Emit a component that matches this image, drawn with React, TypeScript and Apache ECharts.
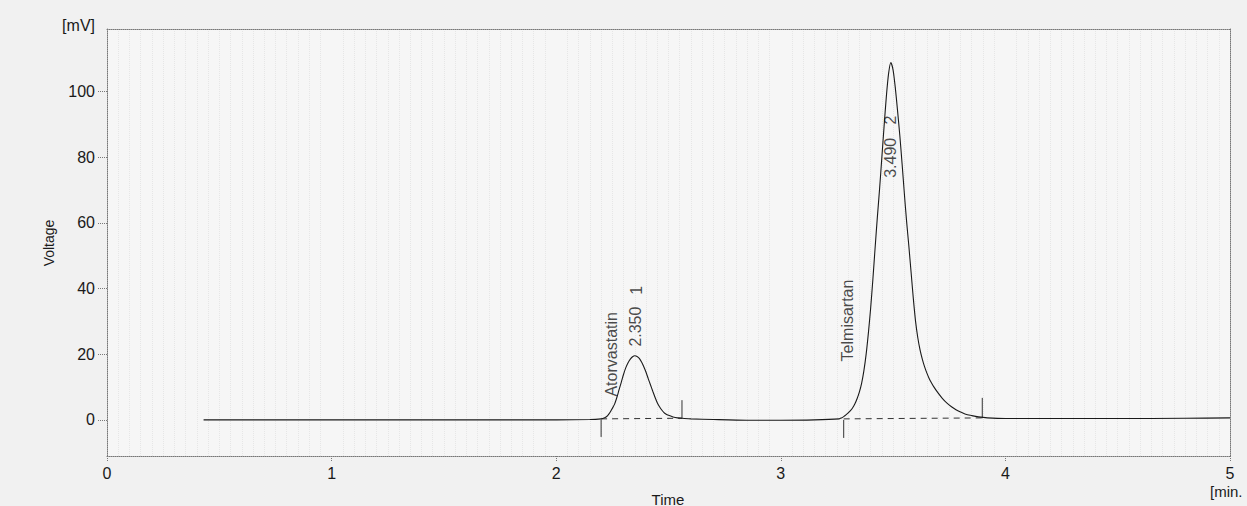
import React, { useEffect, useRef } from "react";
import * as echarts from "echarts";

// Chromatogram signal (time in min, voltage in mV)
const signalTime = [
  0.43, 1.0, 1.5, 2.0, 2.15, 2.2, 2.21, 2.22, 2.23, 2.24, 2.25, 2.26, 2.27, 2.28, 2.29, 2.3, 2.31, 2.32, 2.33, 2.34, 2.35, 2.36, 2.37, 2.38, 2.39, 2.4, 2.41, 2.42, 2.43, 2.44, 2.45, 2.46, 2.47, 2.48, 2.49, 2.5, 2.52, 2.54, 2.56, 2.6, 2.7, 2.85, 3.0, 3.15,
  3.26, 3.27, 3.28, 3.29, 3.3, 3.31, 3.32, 3.33, 3.34, 3.35, 3.36, 3.37, 3.38, 3.39, 3.4, 3.41, 3.42, 3.43, 3.44, 3.45, 3.46, 3.47, 3.48, 3.49, 3.5, 3.51, 3.52, 3.53, 3.54, 3.55, 3.56, 3.57, 3.58, 3.59, 3.6, 3.61, 3.62, 3.63, 3.64, 3.65, 3.66, 3.67, 3.68, 3.7, 3.72, 3.74, 3.76, 3.78, 3.8, 3.82, 3.85, 3.88, 3.92, 4.0, 4.2, 4.5, 4.8, 5.0,
];
const signalMv = [
  0.0, 0.0, 0.0, 0.0, 0.1, 0.3, 0.5, 0.8, 1.4, 2.3, 3.5, 4.8, 6.8, 9.2, 11.5, 13.9, 15.9, 17.4, 18.5, 19.2, 19.5, 19.3, 18.7, 17.6, 16.2, 14.5, 12.5, 10.6, 8.7, 6.9, 5.2, 4.0, 3.0, 2.2, 1.7, 1.4, 0.9, 0.6, 0.5, 0.3, 0.1, -0.1, -0.1, 0.0,
  0.3, 0.6, 1.0, 1.5, 2.1, 2.8, 3.7, 4.9, 6.5, 8.5, 11.2, 15.0, 20.0, 26.5, 34.0, 42.8, 52.5, 61.8, 70.5, 80.0, 89.5, 98.5, 105.5, 108.8, 106.5, 101.0, 94.0, 86.5, 78.0, 69.0, 60.5, 53.0, 45.0, 37.0, 30.0, 25.0, 21.3, 18.5, 16.2, 14.3, 12.7, 11.4, 10.2, 8.2, 6.5, 5.1, 4.0, 3.1, 2.4, 1.8, 1.3, 0.9, 0.6, 0.4, 0.4, 0.4, 0.5, 0.6,
];

// Integration baselines (dashed) per peak: [startT, startV, endT, endV]
const baselines = [
  [2.2, 0.3, 2.56, 0.5],
  [3.28, 0.3, 3.9, 0.6],
];
// Peak start markers (downward) and end markers (upward): [t, v1, v2]
const peakMarkers = [
  [2.2, 0.0, -5.2],
  [2.56, 0.5, 6.0],
  [3.28, 0.0, -5.5],
  [3.897, 0.5, 6.7],
];

// Peak annotations
const annotText = ["Atorvastatin", "2.350", "1", "Telmisartan", "3.490", "2"];
const annotTime = [2.247, 2.354, 2.358, 3.296, 3.489, 3.489];
const annotMv = [7.1, 22.3, 38.1, 17.8, 73.7, 89.9];

const xTicks = [0, 1, 2, 3, 4, 5];
const yTicks = [0, 20, 40, 60, 80, 100];

const FONT = "Liberation Sans, Arial, sans-serif";
const INK = "#1a1a1a";

export default function App() {
  const ref = useRef<HTMLDivElement>(null);
  useEffect(() => {
    if (!ref.current) return;
    const chart = echarts.init(ref.current, null, { renderer: "svg" });
    const signal = signalTime.map((t, i) => [t, signalMv[i]]);
    const series: any[] = [
      {
        type: "line",
        data: signal,
        showSymbol: false,
        smooth: 0.25,
        lineStyle: { color: INK, width: 1.1 },
        z: 5,
      },
    ];
    baselines.forEach((b) => {
      series.push({
        type: "line",
        data: [[b[0], b[1]], [b[2], b[3]]],
        showSymbol: false,
        lineStyle: { color: "#333", width: 1, type: [6, 5] },
        z: 4,
      });
    });
    peakMarkers.forEach((m) => {
      series.push({
        type: "line",
        data: [[m[0], m[1]], [m[0], m[2]]],
        showSymbol: false,
        lineStyle: { color: "#333", width: 1 },
        z: 4,
      });
    });
    series.push({
      type: "scatter",
      symbolSize: 0,
      data: annotText.map((txt, i) => ({ value: [annotTime[i], annotMv[i]], name: txt })),
      label: {
        show: true,
        position: "inside",
        rotate: 90,
        align: "left",
        verticalAlign: "middle",
        formatter: (p: any) => p.name,
        color: INK,
        textBorderWidth: 0,
        textBorderColor: "transparent",
        fontSize: 16,
        fontFamily: FONT,
      },
      z: 6,
    });

    const dottedAxis = { show: true, onZero: false, lineStyle: { color: "#777", type: "dotted", width: 1 } };

    chart.setOption({
      animation: false,
      backgroundColor: "#f1f1f1",
      grid: {
        left: 107,
        right: 17,
        top: 29,
        bottom: 50,
        show: true,
        backgroundColor: "#f6f6f6",
        borderWidth: 0,
      },
      xAxis: [
        {
          type: "value",
          min: 0,
          max: 5,
          interval: 1,
          axisLine: dottedAxis,
          axisTick: { show: true, length: 6, lineStyle: { color: "#777", type: "dotted" } },
          axisLabel: {
            color: INK,
            fontSize: 16,
            fontFamily: FONT,
            margin: 9,
            customValues: xTicks,
          },
          splitLine: { show: false },
          minorTick: { show: false, splitNumber: 20 },
          minorSplitLine: { show: true, lineStyle: { color: "#e6e6e6", type: "dotted", width: 1 } },
        },
        {
          type: "value",
          position: "top",
          min: 0,
          max: 5,
          axisLine: dottedAxis,
          axisTick: { show: false },
          axisLabel: { show: false },
          splitLine: { show: false },
        },
      ],
      yAxis: [
        {
          type: "value",
          min: -11,
          max: 119,
          axisLine: dottedAxis,
          axisTick: {
            show: true,
            length: 10,
            customValues: yTicks,
            lineStyle: { color: "#777", type: "dotted" },
          },
          axisLabel: {
            color: INK,
            fontSize: 16,
            fontFamily: FONT,
            margin: 12,
            customValues: yTicks,
          },
          splitLine: { show: false },
        },
        {
          type: "value",
          position: "right",
          min: -11,
          max: 119,
          axisLine: dottedAxis,
          axisTick: { show: false },
          axisLabel: { show: false },
          splitLine: { show: false },
        },
      ],
      graphic: [
        {
          type: "text",
          x: 95,
          y: 25,
          style: { text: "[mV]", fill: INK, font: `16px ${FONT}`, align: "right", verticalAlign: "middle" },
        },
        {
          type: "text",
          x: 49,
          y: 243,
          rotation: Math.PI / 2,
          style: { text: "Voltage", fill: INK, font: `14px ${FONT}`, align: "center", verticalAlign: "middle" },
        },
        {
          type: "text",
          x: 668,
          y: 499,
          style: { text: "Time", fill: INK, font: `15px ${FONT}`, align: "center", verticalAlign: "middle" },
        },
        {
          type: "text",
          x: 1210,
          y: 491,
          style: { text: "[min.", fill: INK, font: `15px ${FONT}`, align: "left", verticalAlign: "middle" },
        },
      ],
      series,
    });
    return () => chart.dispose();
  }, []);
  return (
    <div
      ref={ref}
      style={{ position: "absolute", left: 0, top: 0, width: 1247, height: 506 }}
    />
  );
}
